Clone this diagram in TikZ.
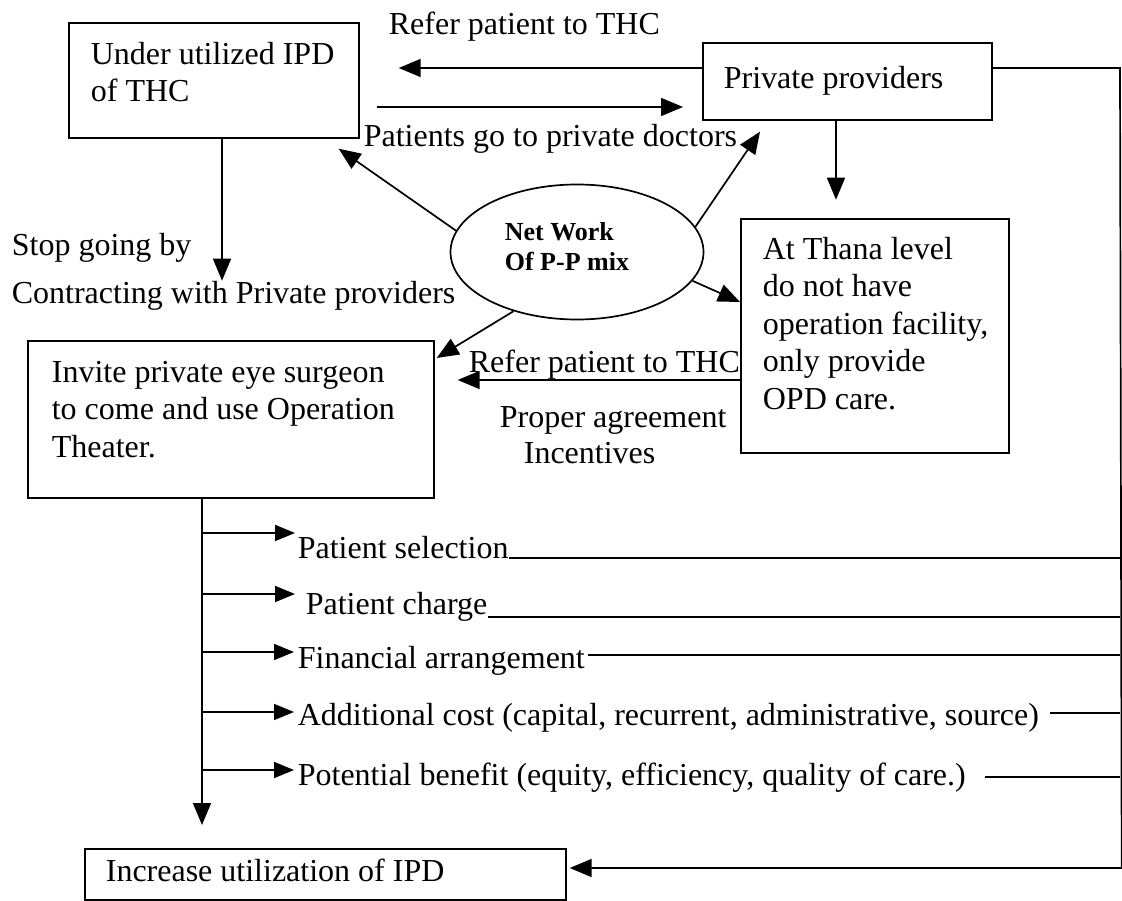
\documentclass[tikz,border=0pt]{standalone}
\usepackage{fontspec}
\setmainfont{Liberation Serif}
\usetikzlibrary{arrows.meta,shapes.geometric,calc}
\begin{document}
\begin{tikzpicture}[x=1pt,y=-1pt,
  line width=1.7pt,
  box/.style={draw, rectangle, inner sep=0pt, anchor=north west},
  txt/.style={inner sep=0pt, anchor=north west, align=left, font=\fontsize{32}{37.5}\selectfont},
  lbl/.style={inner sep=0pt, anchor=base west, font=\fontsize{32}{37.5}\selectfont},
  etxt/.style={inner sep=0pt, anchor=north west, align=left, font=\bfseries\fontsize{26}{30}\selectfont},
  arr/.style={-{Triangle[length=22pt,width=18pt]}},
  arrs/.style={-{Triangle[length=20pt,width=16pt]}},
]
\useasboundingbox (0,0) rectangle (1122,901);

% boxes
\node[box, minimum width=290pt, minimum height=115pt] (A) at (68,22) {};
\node[txt] (Atxt) at (90,41) {Under utilized IPD\\of THC};

\node[box, minimum width=289pt, minimum height=77pt] (P) at (702,42) {};
\node[lbl] (Ptxt) at (723,89) {Private providers};

\node[box, minimum width=268pt, minimum height=234pt] (T) at (740,218) {};
\node[txt] (Ttxt) at (762,236) {At Thana level\\do not have\\operation facility,\\only provide\\OPD care.};

\node[box, minimum width=406pt, minimum height=157pt] (I) at (27,340) {};
\node[txt] (Itxt) at (51,360) {Invite private eye surgeon\\to come and use Operation\\Theater.};

\node[box, minimum width=481pt, minimum height=51pt] (N) at (84,848) {};
\node[lbl] (Ntxt) at (105,881) {Increase utilization of IPD};

\node[draw, ellipse, minimum width=253pt, minimum height=135pt, inner sep=0pt] (E) at (577,252) {};
\node[etxt] (Etxt) at (504,222) {Net Work\\Of P-P mix};

% labels
\node[lbl] (L1) at (388,35) {Refer patient to THC};
\node[lbl] (L2) at (363,147) {Patients go to private doctors};
\node[lbl] (L3) at (11,256) {Stop going by};
\node[lbl] (L4) at (11,304) {Contracting with Private providers};
\node[lbl] (L5) at (468,372) {Refer patient to THC};
\node[lbl] (L6) at (499,427) {Proper agreement};
\node[lbl] (L7) at (523,463) {Incentives};

\node[lbl] (S1) at (297,558) {Patient selection};
\node[lbl] (S2) at (305,614) {Patient charge};
\node[lbl] (S3) at (297,668) {Financial arrangement};
\node[lbl] (S4) at (297,725) {Additional cost (capital, recurrent, administrative, source)};
\node[lbl] (S5) at (297,785) {Potential benefit (equity, efficiency, quality of care.)};

% right spine
\coordinate (R) at (1120,68);

% top connectors
\draw[arr] ($(P.north west)+(0,26)$) -- ($(A.north east)+(39,46)$);
\draw[arr] ($(A.north east)+(17,85)$) -- ($(P.north west)+(-19,65)$);
\draw[arr] ($(P.north east)+(0,26)$) -- (R) -- ($(N.north east)+(555,20)$) -- ($(N.north east)+(3,20)$);

% ellipse connectors
\draw[arr] (E.170) -- ($(A.south east)+(-21,10)$);
\draw[arr] (E.12) -- ($(P.south west)+(58,11)$);
\draw[arr] (E.346) -- ($(T.north west)+(0,84)$);
\draw[arr] (E.223) -- ($(I.north east)+(2,18)$);

% vertical arrows
\draw[arr] ($(A.south west)+(154,0)$) -- ($(A.south west)+(154,142)$);
\draw[arr] ($(P.south west)+(134,0)$) -- ($(P.south west)+(134,79)$);
\draw[arr] ($(T.north west)+(0,162)$) -- ($(I.north east)+(23,40)$);

% branch spine
\coordinate (V) at ($(I.south west)+(175,0)$);
\draw[arr] (V) -- ($(V |- N.north)+(0,-23)$);
\draw[arrs] ($(V |- S1.base)+(0,-25)$) -- ($(S1.base west)+(-2,-25)$);
\draw[arrs] ($(V |- S2.base)+(0,-20)$) -- ($(S2.base west)+(-10,-20)$);
\draw[arrs] ($(V |- S3.base)+(0,-16)$) -- ($(S3.base west)+(-3,-16)$);
\draw[arrs] ($(V |- S4.base)+(0,-13)$) -- ($(S4.base west)+(-3,-13)$);
\draw[arrs] ($(V |- S5.base)+(0,-15)$) -- ($(S5.base west)+(-3,-15)$);

% lines to right spine
\draw (S1.base east) -- (S1.base -| R);
\draw ($(S2.base east)+(0,3)$) -- ($(S2.base -| R)+(0,3)$);
\draw ($(S3.base east)+(2,-13)$) -- ($(S3.base -| R)+(0,-13)$);
\draw ($(S4.base east)+(10,-12)$) -- ($(S4.base -| R)+(0,-12)$);
\draw ($(S5.base east)+(18,-8)$) -- ($(S5.base -| R)+(0,-8)$);
\end{tikzpicture}
\end{document}
